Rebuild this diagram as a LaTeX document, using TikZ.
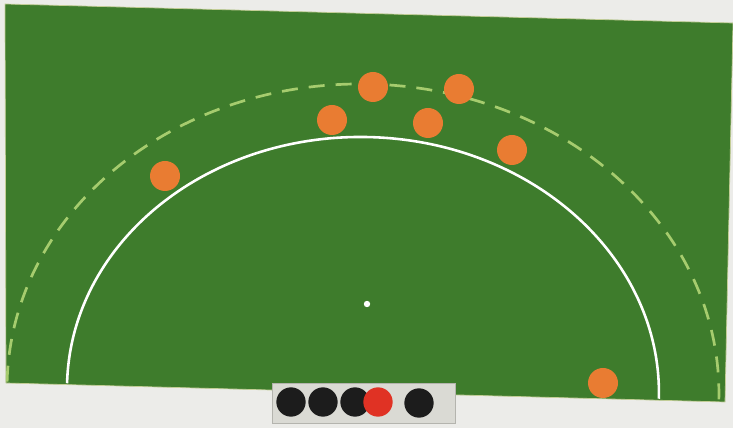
\documentclass[tikz,border=0pt]{standalone}
\usetikzlibrary{calc}
\definecolor{PitchGreen}{RGB}{62,124,44}
\definecolor{PitchEdge}{RGB}{196,206,150}
\definecolor{PaperGray}{RGB}{236,236,233}
\definecolor{LineGreen}{RGB}{166,204,110}
\definecolor{PlayerOrange}{RGB}{233,124,50}
\definecolor{MarkerRed}{RGB}{224,50,36}
\definecolor{MarkerBlack}{RGB}{28,28,28}
\definecolor{BoxGray}{RGB}{218,218,212}
\definecolor{BoxEdge}{RGB}{180,180,174}

\tikzset{
	player/.style={circle,fill=PlayerOrange,inner sep=0pt,minimum size=0.9cm},
	marker/.style={circle,fill=MarkerBlack,inner sep=0pt,minimum size=0.88cm},
}

\begin{document}
\begin{tikzpicture}[x=0.03cm,y=0.03cm]
		\useasboundingbox (0,0) rectangle (733,428);
		\fill[PaperGray] (0,0) rectangle (733,428);
		
		% lapangan
		\fill[PitchGreen,draw=PitchEdge,line width=0.6pt] (5,424) -- (733,405) -- (725,26) -- (6,45) -- cycle;
		
		% lingkaran tembak dan garis putus-putus
		\coordinate (C) at (363,37);
		\begin{scope}[rotate around={-1.5:(C)}]
			\draw[LineGreen,line width=2.3pt,dash pattern=on 0.48cm off 0.33cm]
			($(C)+(-356,0)$) arc[start angle=180,end angle=0,x radius=356,y radius=307];
			\draw[white,line width=2.2pt]
			($(C)+(-296,0)$) arc[start angle=180,end angle=0,x radius=296,y radius=254];
		\end{scope}
		\fill[white] (367,124) circle[radius=3.2];
		
		% pemain
		\foreach \x/\y [count=\i] in {165/252,373/341,459/339,332/308,428/305,512/278,603/45}
		\node[player] (p\i) at (\x,\y) {};
		
		% kotak penanda
		\fill[BoxGray,draw=BoxEdge,line width=0.5pt] (272,5) rectangle (455,45);
		\node[marker] (m1) at (291,26) {};
		\node[marker] (m2) at (323,26) {};
		\node[marker] (m3) at (355,26) {};
		\node[marker,fill=MarkerRed] (m4) at (378,26) {};
		\node[marker] (m5) at (419,25) {};
	\end{tikzpicture}
\end{document}
